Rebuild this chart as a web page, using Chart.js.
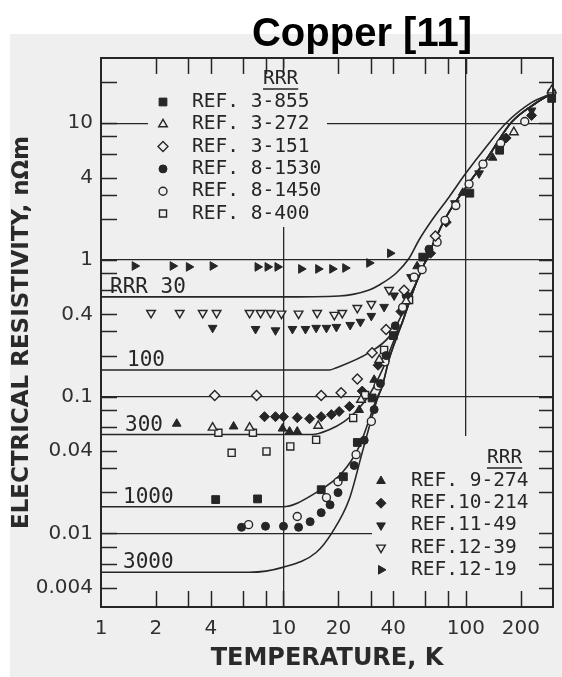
<!DOCTYPE html>
<html>
<head>
<meta charset="utf-8">
<script src="https://cdn.jsdelivr.net/npm/chart.js@4.4.1/dist/chart.umd.min.js"></script>
<style>
  html, body { margin: 0; padding: 0; background: #fff; }
  #wrap { width: 562px; height: 677px; }
</style>
</head>
<body>
<div id="wrap"><canvas id="cu" width="562" height="677"></canvas></div>
<script>
// axis ticks
const xLabelTicks = [1, 2, 4, 10, 20, 40, 100, 200];
const xMinorTicks = [2, 3, 4, 6, 8, 10, 20, 30, 40, 60, 80, 100, 200];
const xGridAt = [10, 100];
const yLabelTicks = [0.004, 0.01, 0.04, 0.1, 0.4, 1, 4, 10];
const yMinorTicks = [0.004, 0.006, 0.008, 0.01, 0.02, 0.03, 0.04, 0.06, 0.08,
  0.1, 0.2, 0.3, 0.4, 0.6, 0.8, 1, 2, 3, 4, 6, 8, 10, 20];
const yGridAt = [0.01, 0.1, 1, 10];

// RRR curves, [T (K), resistivity (nOhm m)]
const rrrNames = ['RRR 30', '100', '300', '1000', '3000'];
const lowSpine = [[34.8, 0.12], [38, 0.19], [44.7, 0.347], [52, 0.62], [60.4, 1.0],
  [77.8, 2.06], [103.9, 3.65], [128.6, 5.37], [178, 10.2], [241, 14.0], [295, 16.5]];
const rrr30 = [[1, 0.537], [9.5, 0.537], [20.2, 0.546], [29.5, 0.604], [33.5, 0.657],
  [41.4, 0.80], [48.8, 1.03], [55.3, 1.40], [65.2, 1.96], [80.7, 2.88], [100, 4.32],
  [128.6, 6.68], [165.5, 10.0], [229.5, 14.2], [295, 16.5]];
const rrr100 = [[1, 0.157], [17.8, 0.157], [19.5, 0.163], [29.5, 0.21], [37.9, 0.274],
  [43.1, 0.365], [48.8, 0.537], [53.3, 0.68], [60.4, 1.0]];
const rrr300 = [[1, 0.0529], [14.4, 0.0529], [17.8, 0.0574], [21.5, 0.0657], [25.4, 0.080],
  [29.5, 0.103], [34.8, 0.157], [40.4, 0.26], [44.7, 0.347]];
const rrr1000 = [[1, 0.0157], [9.9, 0.0157], [15.1, 0.0199], [21.0, 0.0279], [26.0, 0.0432],
  [29.5, 0.068], [32.2, 0.095]];
const rrr3000 = [[1, 0.0052], [6.5, 0.0052], [9.9, 0.00565], [15.1, 0.00726], [18.5, 0.0102],
  [22.9, 0.0177], [27.0, 0.039], [29.5, 0.060], [32.6, 0.095]];

// measured points
const ref3_855 = [[4.25, 0.0177], [7.21, 0.0179], [16.1, 0.0209], [21.3, 0.026], [25.4, 0.0463],
  [30.6, 0.098], [40, 0.28], [58, 1.05], [105, 3.08], [153, 6.35], [295, 15.2]];
const ref3_272 = [[4.09, 0.0594], [6.52, 0.0594], [15.5, 0.0613], [26.6, 0.095], [33.5, 0.186],
  [47, 0.5], [183, 8.6], [295, 17.4]];
const ref3_151 = [[4.2, 0.102], [7.12, 0.102], [16.1, 0.102], [20.7, 0.107], [25.4, 0.135],
  [30.6, 0.21], [36.5, 0.31], [45.8, 0.6], [68, 1.5]];
const ref8_1530 = [[5.89, 0.0111], [7.97, 0.0113], [10.0, 0.0113], [12.1, 0.0111], [14.0, 0.0122],
  [16.1, 0.0142], [18.0, 0.0162], [19.9, 0.0199], [24.4, 0.0314], [27.7, 0.048], [31.4, 0.0805],
  [34, 0.125], [36.5, 0.2], [41, 0.33], [47, 0.55], [62.7, 1.2]];
const ref8_1450 = [[6.44, 0.0116], [11.9, 0.0133], [17.2, 0.0183], [19.9, 0.0239], [25.0, 0.0377],
  [30.3, 0.066], [33, 0.12], [36, 0.18], [40, 0.3], [45, 0.45], [52, 0.75], [57.5, 0.85],
  [69.5, 1.35], [76.8, 1.95], [88, 2.5], [104, 3.59], [124, 5.02], [155, 7.14], [210, 10.3], [295, 16.8]];
const ref8_400 = [[4.4, 0.0545], [6.8, 0.0545], [5.2, 0.0389], [8.07, 0.0398], [10.9, 0.0433],
  [15.1, 0.0484], [24.1, 0.07], [28, 0.103], [35.6, 0.22], [48.8, 0.51]];
const ref9_274 = [[2.6, 0.0635], [5.33, 0.0606], [9.88, 0.0585], [10.8, 0.0557], [11.9, 0.0557],
  [26, 0.08], [31.4, 0.133], [40.4, 0.31], [54, 0.9], [96, 3.1], [140, 5.6]];
const ref10_214 = [[7.87, 0.0715], [9.04, 0.0715], [10.0, 0.0715], [11.9, 0.0703], [13.9, 0.069],
  [16.1, 0.0715], [18.3, 0.074], [20.2, 0.078], [23, 0.085], [27, 0.11], [33, 0.17], [44, 0.42],
  [64, 1.12], [78, 1.89], [166, 7.8], [229, 11.4]];
const ref11_49 = [[4.09, 0.319], [7.03, 0.313], [9.04, 0.306], [11.2, 0.313], [13.2, 0.313],
  [15.1, 0.319], [17.2, 0.319], [19.5, 0.324], [23.2, 0.335], [26.4, 0.353], [30.3, 0.39],
  [35.6, 0.454], [40.4, 0.55], [50, 0.75], [60.4, 1.05], [87, 2.6], [118, 4.3], [229, 12.4]];
const ref12_39 = [[1.88, 0.41], [2.70, 0.41], [3.61, 0.41], [4.30, 0.41], [6.52, 0.41], [7.49, 0.41],
  [8.49, 0.41], [9.75, 0.405], [12.1, 0.405], [15.3, 0.41], [19.0, 0.397], [21.0, 0.41],
  [25.4, 0.446], [30.3, 0.477], [37.9, 0.604]];
const ref12_19 = [[1.53, 0.904], [2.47, 0.904], [3.03, 0.89], [4.09, 0.904], [7.21, 0.89],
  [8.18, 0.89], [9.27, 0.89], [12.5, 0.86], [15.5, 0.86], [18.5, 0.86], [21.8, 0.874],
  [29.5, 0.951], [38.4, 1.12]];

const ink = '#262626';
const paper = '#efefef';

const series = [
  { label: 'REF. 3-855', data: ref3_855, style: 'rect', filled: true, r: 5.5, rot: 0 },
  { label: 'REF. 3-272', data: ref3_272, style: 'triangle', filled: false, r: 5, rot: 0 },
  { label: 'REF. 3-151', data: ref3_151, style: 'rectRot', filled: false, r: 5, rot: 0 },
  { label: 'REF. 8-1530', data: ref8_1530, style: 'circle', filled: true, r: 4, rot: 0 },
  { label: 'REF. 8-1450', data: ref8_1450, style: 'circle', filled: false, r: 4, rot: 0 },
  { label: 'REF. 8-400', data: ref8_400, style: 'rect', filled: false, r: 5, rot: 0 },
  { label: 'REF. 9-274', data: ref9_274, style: 'triangle', filled: true, r: 5, rot: 0 },
  { label: 'REF.10-214', data: ref10_214, style: 'rectRot', filled: true, r: 5, rot: 0 },
  { label: 'REF.11-49', data: ref11_49, style: 'triangle', filled: true, r: 5, rot: 180 },
  { label: 'REF.12-39', data: ref12_39, style: 'triangle', filled: false, r: 5, rot: 180 },
  { label: 'REF.12-19', data: ref12_19, style: 'triangle', filled: true, r: 5, rot: 90 }
];

const toXY = pts => pts.map(p => ({ x: p[0], y: p[1] }));
const rrrCurves = [
  rrr30,
  rrr100.concat(lowSpine.slice(5)),
  rrr300.concat(lowSpine.slice(3)),
  rrr1000.concat(lowSpine),
  rrr3000.concat(lowSpine)
];

const datasets = [];
series.forEach(s => {
  datasets.push({
    label: s.label,
    data: toXY(s.data),
    pointStyle: s.style,
    rotation: s.rot,
    pointRadius: s.r,
    pointBackgroundColor: s.filled ? ink : paper,
    pointBorderColor: ink,
    pointBorderWidth: s.filled ? 1 : 1.4,
    clip: false
  });
});
rrrCurves.forEach((c, i) => {
  datasets.push({
    label: rrrNames[i],
    data: toXY(c),
    showLine: true,
    pointRadius: 0,
    borderColor: ink,
    borderWidth: 1.6,
    cubicInterpolationMode: 'monotone',
    fill: false
  });
});

function drawMarker(ctx, s, x, y) {
  ctx.fillStyle = s.filled ? ink : paper;
  ctx.strokeStyle = ink;
  ctx.lineWidth = s.filled ? 1 : 1.4;
  Chart.helpers.drawPoint(ctx, {
    pointStyle: s.style, rotation: s.rot, radius: s.r, borderWidth: ctx.lineWidth
  }, x, y);
}

const frame = {
  id: 'frame',
  beforeDraw(chart) {
    const ctx = chart.ctx;
    ctx.save();
    ctx.fillStyle = '#ffffff';
    ctx.fillRect(0, 0, chart.width, chart.height);
    ctx.fillStyle = paper;
    ctx.fillRect(10, 34, chart.width - 10, chart.height - 34);
    ctx.restore();
  },
  beforeDatasetsDraw(chart) {
    const ctx = chart.ctx;
    const a = chart.chartArea;
    const ys = chart.scales.y;
    ctx.save();
    // legend panels hide the grid lines behind them
    ctx.fillStyle = paper;
    ctx.fillRect(148, 68, 179, 159);
    ctx.fillRect(372, 436, a.right - 372, a.bottom - 436);
    // RRR labels above the flat parts
    ctx.fillStyle = ink;
    ctx.font = '21px "DejaVu Sans Mono", monospace';
    ctx.textAlign = 'left';
    ctx.textBaseline = 'alphabetic';
    const dx = [9, 26, 24, 22, 22];
    rrrCurves.forEach((c, i) => {
      ctx.fillText(rrrNames[i], a.left + dx[i], ys.getPixelForValue(c[0][1]) - 4);
    });
    ctx.restore();
  },
  afterDatasetsDraw(chart) {
    const ctx = chart.ctx;
    const a = chart.chartArea;
    const xs = chart.scales.x, ys = chart.scales.y;
    ctx.save();
    ctx.strokeStyle = ink;
    ctx.lineWidth = 1.5;
    ctx.beginPath();
    xMinorTicks.forEach(v => {
      const x = Math.round(xs.getPixelForValue(v)) + 0.5;
      ctx.moveTo(x, a.bottom); ctx.lineTo(x, a.bottom - 16);
      ctx.moveTo(x, a.top); ctx.lineTo(x, a.top + 16);
    });
    yMinorTicks.forEach(v => {
      const y = Math.round(ys.getPixelForValue(v)) + 0.5;
      ctx.moveTo(a.left, y); ctx.lineTo(a.left + 16, y);
      ctx.moveTo(a.right, y); ctx.lineTo(a.right - 14, y);
    });
    ctx.stroke();
    ctx.lineWidth = 2;
    ctx.strokeRect(a.left, a.top, a.right - a.left, a.bottom - a.top);

    // legends
    ctx.font = '19.5px "DejaVu Sans Mono", monospace';
    ctx.textBaseline = 'middle';
    ctx.textAlign = 'left';
    const drawBlock = (items, symX, txtX, y0, step, hx, hy) => {
      ctx.fillStyle = ink;
      ctx.fillText('RRR', hx, hy);
      const w = ctx.measureText('RRR').width;
      ctx.lineWidth = 1.3;
      ctx.beginPath();
      ctx.moveTo(hx, hy + 10); ctx.lineTo(hx + w, hy + 10);
      ctx.stroke();
      items.forEach((s, i) => {
        const y = y0 + i * step;
        drawMarker(ctx, s, symX, y);
        ctx.fillStyle = ink;
        ctx.fillText(s.label, txtX, y);
      });
    };
    drawBlock(series.slice(0, 6), 163, 192, 102, 22.3, 263, 79);
    drawBlock(series.slice(6), 381, 411, 481, 22.2, 487, 458);

    // title
    ctx.fillStyle = '#000';
    ctx.font = 'bold 40px "Liberation Sans", Arial, sans-serif';
    ctx.textAlign = 'center';
    ctx.textBaseline = 'alphabetic';
    ctx.fillText('Copper [11]', 362, 46);
    ctx.restore();
  }
};

new Chart(document.getElementById('cu'), {
  type: 'scatter',
  data: { datasets },
  options: {
    responsive: false,
    animation: false,
    devicePixelRatio: 1,
    events: [],
    layout: { padding: { top: 58, right: 9, left: 0, bottom: 0 } },
    plugins: { legend: { display: false }, tooltip: { enabled: false } },
    scales: {
      x: {
        type: 'logarithmic',
        min: 1,
        max: 300,
        afterFit: s => { s.height = 70; },
        afterBuildTicks: s => { s.ticks = xLabelTicks.map(v => ({ value: v })); },
        border: { display: false },
        grid: {
          drawTicks: false,
          lineWidth: 1.3,
          color: c => (c.tick && xGridAt.includes(c.tick.value)) ? ink : 'rgba(0,0,0,0)'
        },
        ticks: {
          autoSkip: false, maxRotation: 0, minRotation: 0, padding: 10,
          color: '#303030',
          font: { family: 'DejaVu Sans', size: 20 },
          callback: v => String(v)
        },
        title: {
          display: true,
          text: 'TEMPERATURE, K',
          color: '#2a2a2a',
          font: { family: 'DejaVu Sans', size: 24, weight: 'bold' },
          padding: { top: 0, bottom: 4 }
        }
      },
      y: {
        type: 'logarithmic',
        min: 0.0029,
        max: 30,
        afterFit: s => { s.width = 101; },
        afterBuildTicks: s => { s.ticks = yLabelTicks.map(v => ({ value: v })); },
        border: { display: false },
        grid: {
          drawTicks: false,
          lineWidth: 1.3,
          color: c => (c.tick && yGridAt.includes(c.tick.value)) ? ink : 'rgba(0,0,0,0)'
        },
        ticks: {
          autoSkip: false, padding: 8,
          color: '#303030',
          font: { family: 'DejaVu Sans', size: 20 },
          callback: v => String(v)
        },
        title: {
          display: true,
          text: 'ELECTRICAL RESISTIVITY, nΩm',
          color: '#2a2a2a',
          font: { family: 'DejaVu Sans', size: 23, weight: 'bold' },
          padding: { top: 8, bottom: 0 }
        }
      }
    }
  },
  plugins: [frame]
});
</script>
</body>
</html>
